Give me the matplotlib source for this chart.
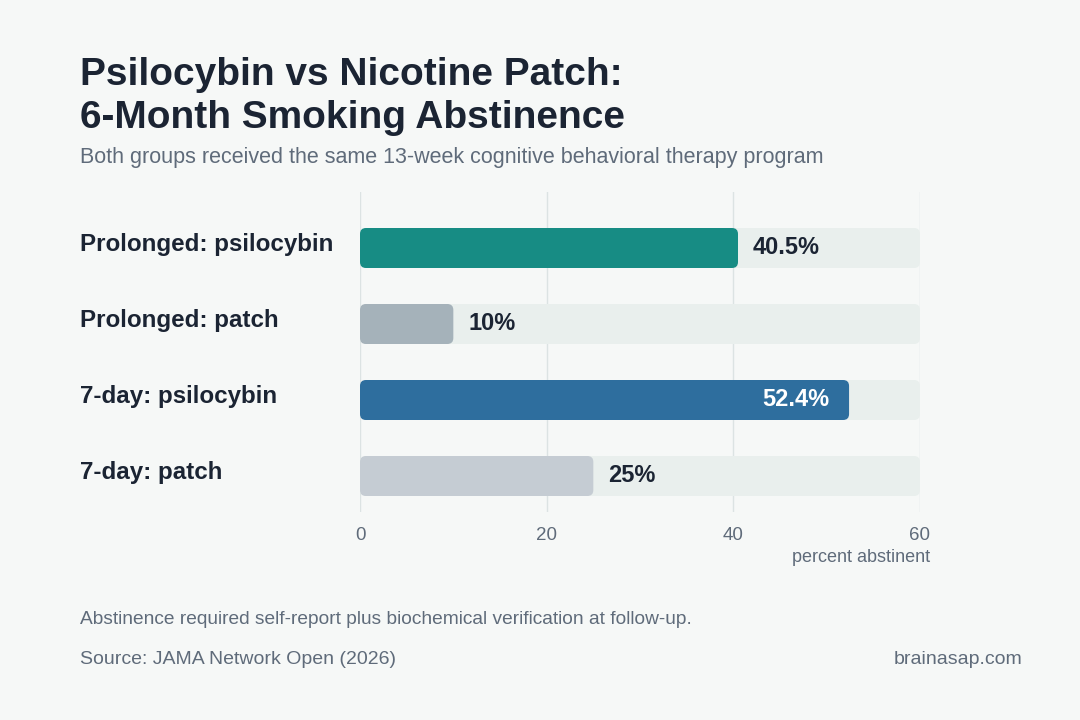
import matplotlib.pyplot as plt
from matplotlib.patches import FancyBboxPatch
from matplotlib.transforms import blended_transform_factory

plt.rcParams['font.family'] = ['Liberation Sans', 'DejaVu Sans']

categories = ['Prolonged: psilocybin', 'Prolonged: patch', '7-day: psilocybin', '7-day: patch']
values = [40.5, 10, 52.4, 25]
value_labels = ['40.5%', '10%', '52.4%', '25%']
bar_colors = ['#178C84', '#A5B2BA', '#2E6E9E', '#C5CCD3']
x_ticks = [0, 20, 40, 60]

BG = '#F6F8F7'
DARK = '#1B2433'
GREY = '#5F6B7A'
TRACK = '#E9EFED'
GRID = '#DCE3E3'

W, H = 1080, 720
fig = plt.figure(figsize=(W / 100, H / 100), dpi=100, facecolor=BG)

# axes placed in pixel terms
ax_left, ax_right, ax_top, ax_bottom = 360, 920, 192, 512
ax = fig.add_axes([ax_left / W, 1 - ax_bottom / H, (ax_right - ax_left) / W, (ax_bottom - ax_top) / H])
ax.set_facecolor(BG)

row_px = 76
first_row = 248
ax.set_xlim(0, 60)
ax.set_ylim((ax_bottom - first_row) / row_px, -(first_row - ax_top) / row_px)

for t in x_ticks:
    ax.axvline(t, color=GRID, lw=1, zorder=0)

bar_h = 40 / row_px
rx = 6 / ((ax_right - ax_left) / 60)
aspect = ((ax_right - ax_left) / 60) / row_px


def rounded_bar(y, w, color, z):
    p = FancyBboxPatch((0, y - bar_h / 2), w, bar_h,
                       boxstyle=f'round,pad=0,rounding_size={rx}',
                       mutation_aspect=aspect, fc=color, ec='none', zorder=z)
    ax.add_patch(p)


for i, (v, c, lab) in enumerate(zip(values, bar_colors, value_labels)):
    rounded_bar(i, 60, TRACK, 1)
    rounded_bar(i, v, c, 2)
    if v > 45:
        ax.text(v - 2.1, i, lab, ha='right', va='center', color='white',
                fontsize=17, fontweight='bold', zorder=3)
    else:
        ax.text(v + 1.6, i, lab, ha='left', va='center', color=DARK,
                fontsize=17, fontweight='bold', zorder=3)

trans = blended_transform_factory(fig.transFigure, ax.transData)
for i, cat in enumerate(categories):
    ax.text(80 / W, i - 0.05, cat, transform=trans, ha='left', va='center',
            color=DARK, fontsize=17.4, fontweight='bold')

ax.set_xticks(x_ticks)
ax.set_xticklabels([str(t) for t in x_ticks])
ax.set_yticks([])
ax.tick_params(axis='x', length=0, pad=11, labelsize=13.5, labelcolor=GREY)
for s in ax.spines.values():
    s.set_visible(False)

fig.text(930 / W, 1 - 558 / H, 'percent abstinent', ha='right', va='center',
         color=GREY, fontsize=13)

fig.text(80 / W, 1 - 75 / H, 'Psilocybin vs Nicotine Patch:', ha='left', va='center',
         color=DARK, fontsize=28, fontweight='bold')
fig.text(80 / W, 1 - 118 / H, '6-Month Smoking Abstinence', ha='left', va='center',
         color=DARK, fontsize=28, fontweight='bold')
fig.text(80 / W, 1 - 158 / H,
         'Both groups received the same 13-week cognitive behavioral therapy program',
         ha='left', va='center', color=GREY, fontsize=15.5)

fig.text(80 / W, 1 - 620 / H,
         'Abstinence required self-report plus biochemical verification at follow-up.',
         ha='left', va='center', color=GREY, fontsize=13.8)
fig.text(80 / W, 1 - 659 / H, 'Source: JAMA Network Open (2026)', ha='left', va='center',
         color=GREY, fontsize=14)
fig.text(1022 / W, 1 - 659 / H, 'brainasap.com', ha='right', va='center',
         color=GREY, fontsize=14)

fig.savefig('out.png', dpi=100, facecolor=BG)
